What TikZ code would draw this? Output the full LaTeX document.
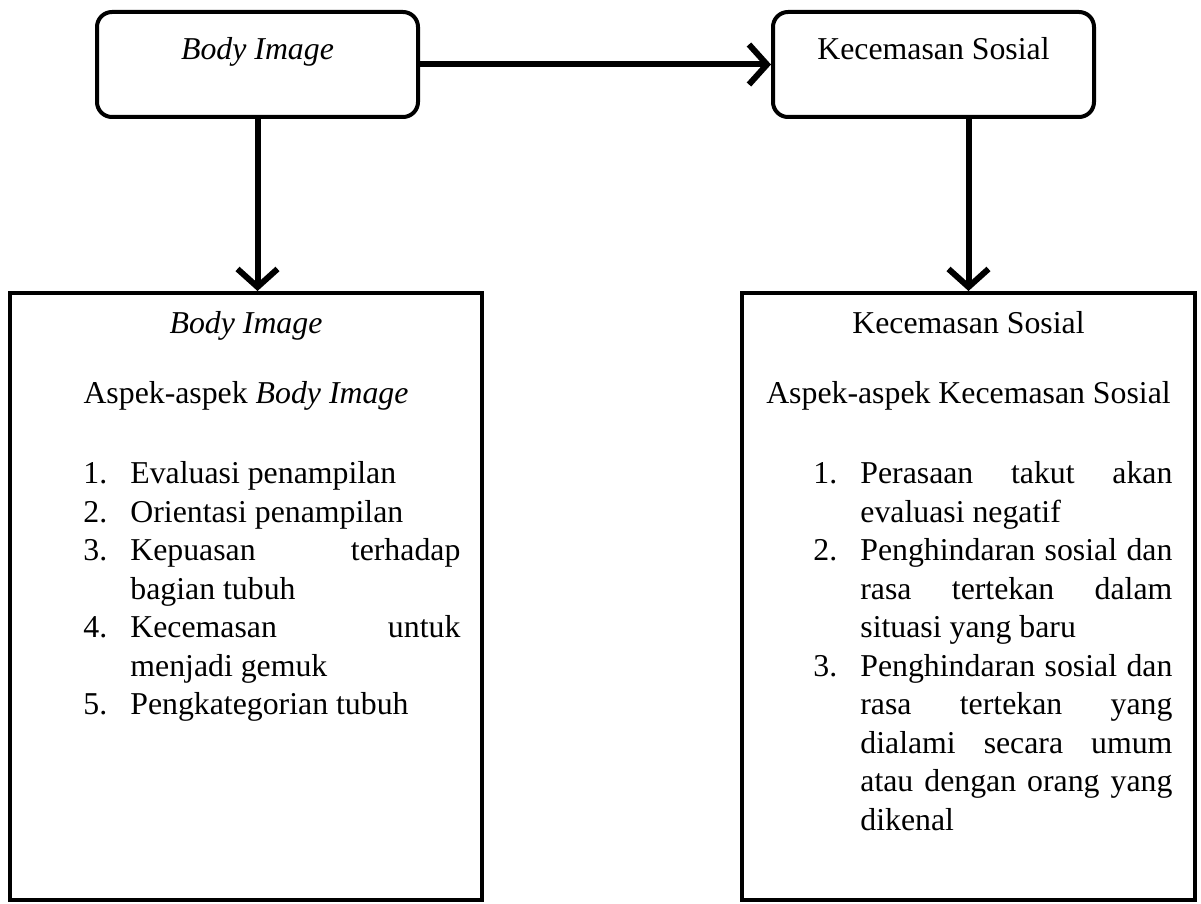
\documentclass[tikz,border=0pt]{standalone}
\usepackage{fontspec}
\setmainfont{Liberation Serif}
\usetikzlibrary{arrows.meta}

\newcommand{\aspekitem}[2]{\par\hangindent=23.5pt\hangafter=1\noindent\makebox[23.5pt][l]{#1}\strut#2\par}

\tikzset{
    topbox/.style={
        rectangle,
        rounded corners=7.5pt,
        draw,
        line width=2pt,
        inner sep=0pt,
        minimum width=160.5pt,
        text height=24pt,
        text depth=28.5pt
    },
    lowbox/.style={
        rectangle,
        draw,
        line width=2pt,
        minimum height=303.5pt
    },
    headtext/.style={anchor=base, inner sep=0pt},
    listtext/.style={
        anchor=north west,
        inner sep=0pt,
        align=justify
    },
    flowarrow/.style={
        line width=3pt,
        -{Straight Barb[length=9pt, width=20pt]}
    }
}

\begin{document}
\begin{tikzpicture}[x=0.5pt, y=-0.5pt, font=\fontsize{15.9}{19.25}\selectfont]
    \useasboundingbox (0,0) rectangle (1201,904);

    \node[topbox] (tl) at (257.5,64.5) {\textit{Body Image}};
    \node[topbox] (tr) at (933.5,64.5) {Kecemasan Sosial};

    \node[lowbox, minimum width=236pt] (bl) at (246,596.5) {};
    \node[lowbox, minimum width=226.5pt] (br) at (968.5,596.5) {};

    \node[headtext] (blhead) at (246,333) {\textit{Body Image}};
    \node[headtext] (blsub) at (246,403) {Aspek-aspek \textit{Body Image}};
    \node[listtext, text width=188.5pt] (bllist) at (83,445) {%
        \tolerance=10000\hyphenpenalty=10000%
        \aspekitem{1.}{Evaluasi penampilan}
        \aspekitem{2.}{Orientasi penampilan}
        \aspekitem{3.}{Kepuasan terhadap bagian tubuh}
        \aspekitem{4.}{Kecemasan untuk menjadi gemuk}
        \aspekitem{5.}{Pengkategorian tubuh}
    };

    \node[headtext] (brhead) at (968.5,334) {Kecemasan Sosial};
    \node[headtext] (brsub) at (968.5,403) {Aspek-aspek Kecemasan Sosial};
    \node[listtext, text width=179.5pt] (brlist) at (813,445) {%
        \tolerance=10000\hyphenpenalty=10000%
        \aspekitem{1.}{Perasaan takut akan evaluasi negatif}
        \aspekitem{2.}{Penghindaran sosial dan\linebreak rasa tertekan dalam situasi yang baru}
        \aspekitem{3.}{Penghindaran sosial dan rasa tertekan yang dialami secara umum atau dengan orang yang dikenal}
    };

    \draw[flowarrow] (tl.east) -- (tr.west);
    \draw[flowarrow] (tl.south) -- (tl.south |- bl.north);
    \draw[flowarrow] (br.north |- tr.south) -- (br.north);
\end{tikzpicture}
\end{document}
